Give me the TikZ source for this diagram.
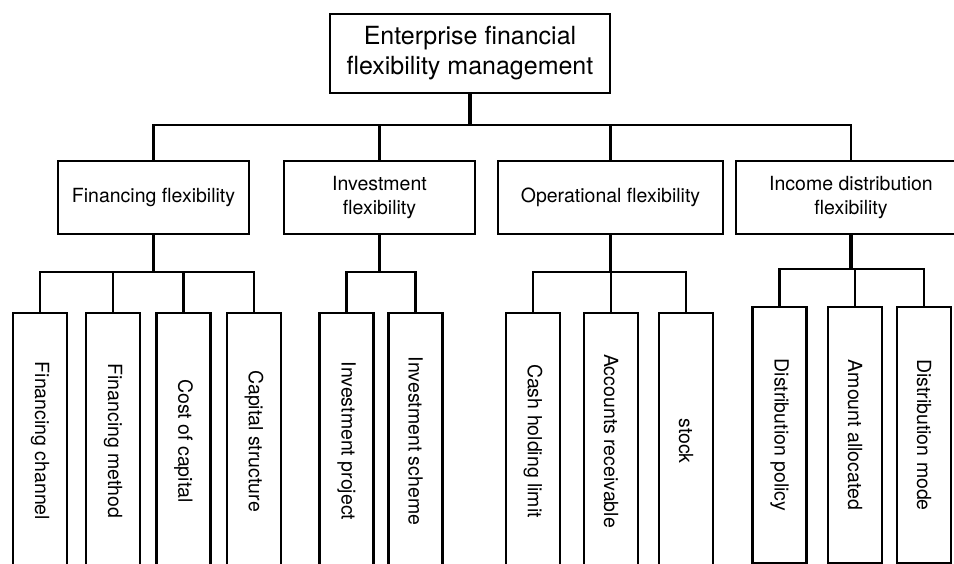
\documentclass[tikz,border=0pt]{standalone}
\usepackage{fontspec}
\setmainfont{TeX Gyre Heros}
\usepackage{graphicx}
\begin{document}
\begin{tikzpicture}[x=1pt, y=-1pt, line width=2.3pt,
        box/.style={draw, inner sep=0pt, outer sep=0pt, align=center},
        rootbox/.style={box, minimum width=280pt, minimum height=79pt, font=\fontsize{25}{30}\selectfont},
        groupbox/.style={box, minimum height=73pt, font=\fontsize{19.5}{23.5}\selectfont},
        leafbox/.style={box, anchor=north, minimum width=54pt, minimum height=256pt, font=\fontsize{19.5}{23.5}\selectfont},
        trunk/.style={line width=3.2pt}]
        \useasboundingbox (0,0) rectangle (954,563);
        \clip (0,0) rectangle (954,563);
        % root and the four kinds of flexibility
        \node [rootbox] (root) at (470, 53.5) {Enterprise financial\\flexibility management};
        \node [groupbox, minimum width=191pt] (fin) at (153.5, 197.5) {Financing flexibility};
        \node [groupbox, minimum width=191pt] (inv) at (379.5, 197.5) {Investment\\flexibility};
        \node [groupbox, minimum width=225pt] (ops) at (610.5, 197.5) {Operational flexibility};
        \node [groupbox, minimum width=230pt] (inc) at (851, 197.5) {Income distribution\\flexibility};
        \coordinate (bus) at (470, 125);
        \draw [trunk] (root.south) -- (bus);
        \draw (fin.north) |- (bus) -| (inc.north);
        \draw (inv.north) -- (inv.north |- bus);
        \draw (ops.north) -- (ops.north |- bus);
        % financing
        \node [leafbox] (chan) at (40, 313) {\rotatebox{-90}{Financing channel}};
        \node [leafbox] (meth) at (113, 313) {\rotatebox{-90}{Financing method}};
        \node [leafbox] (cost) at (183.5, 313) {\rotatebox{-90}{Cost of capital}};
        \node [leafbox] (struct) at (254, 313) {\rotatebox{-90}{Capital structure}};
        \draw [trunk] (fin.south) -- ++(0, 38) coordinate (finbus);
        \draw (chan.north) |- (finbus) -| (struct.north);
        \draw (meth.north) -- (meth.north |- finbus);
        \draw (cost.north) -- (cost.north |- finbus);
        % investment
        \node [leafbox] (proj) at (346.5, 313) {\rotatebox{-90}{Investment project}};
        \node [leafbox] (scheme) at (415.5, 313) {\rotatebox{-90}{Investment scheme}};
        \draw [trunk] (inv.south) -- ++(0, 38) coordinate (invbus);
        \draw (proj.north) |- (invbus) -| (scheme.north);
        % operations
        \node [leafbox] (cash) at (533, 313) {\rotatebox{-90}{Cash holding limit}};
        \node [leafbox] (recv) at (611, 313) {\rotatebox{-90}{Accounts receivable}};
        \node [leafbox] (stock) at (686, 313) {\rotatebox{-90}{stock}};
        \draw [trunk] (ops.south) -- ++(0, 38) coordinate (opsbus);
        \draw (cash.north) |- (opsbus) -| (stock.north);
        \draw (recv.north) -- (recv.north |- opsbus);
        % income distribution
        \node [leafbox] (policy) at (779.5, 307) {\rotatebox{-90}{Distribution policy}};
        \node [leafbox] (amount) at (855, 307) {\rotatebox{-90}{Amount allocated}};
        \node [leafbox] (mode) at (924, 307) {\rotatebox{-90}{Distribution mode}};
        \draw [trunk] (inc.south) -- ++(0, 35) coordinate (incbus);
        \draw (policy.north) |- (incbus) -| (mode.north);
        \draw (amount.north) -- (amount.north |- incbus);
    \end{tikzpicture}
\end{document}
